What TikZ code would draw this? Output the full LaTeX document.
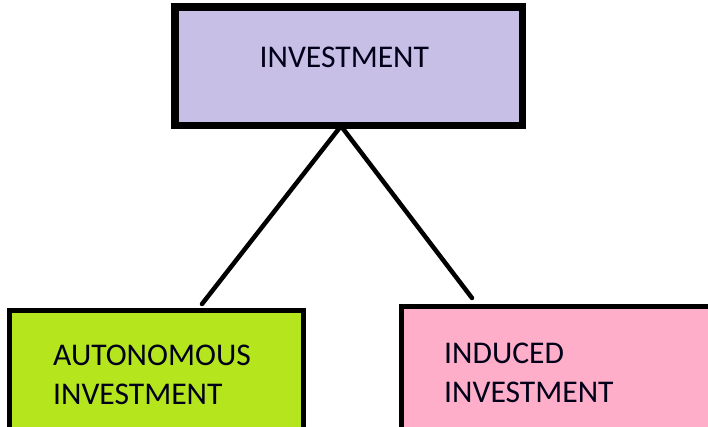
\documentclass[tikz,border=0pt]{standalone}
\usepackage{fontspec}
\setmainfont{Carlito}
\definecolor{lavender}{HTML}{C8BFE7}
\definecolor{lime}{HTML}{B5E61D}
\definecolor{pinkfill}{HTML}{FFAEC9}
\tikzset{
  box/.style={draw=black, line width=5pt, rectangle, inner sep=0pt},
  label text/.style={font=\fontsize{31.6}{38.5}\selectfont, inner sep=0pt, align=left, text=black!90!blue},
  link/.style={draw=black, line width=4.5pt, line cap=round}
}
\begin{document}
\begin{tikzpicture}[x=1pt, y=-1pt]
  \useasboundingbox (0,0) rectangle (708,427);
  \clip (0,0) rectangle (708,427);
  \fill[white] (0,0) rectangle (708,427);

  % boxes
  \node[box, fill=lavender, minimum width=345pt, minimum height=116pt] (top) at (348.5,66.5) {};
  \node[box, fill=lime, minimum width=294pt, minimum height=140pt] (auto) at (156.5,380.5) {};
  \node[box, fill=pinkfill, minimum width=320pt, minimum height=150pt] (ind) at (561.5,381) {};

  % labels (base anchor sits on the last line)
  \node[label text, anchor=base west] (toptext) at (259.5,68) {INVESTMENT};
  \node[label text, anchor=base west] (autotext) at (53,404) {AUTONOMOUS\\INVESTMENT};
  \node[label text, anchor=base west] (indtext) at (444,402) {INDUCED\\INVESTMENT};

  % connectors
  \coordinate (apex) at (341,126);
  \coordinate (autoend) at (202,304);
  \coordinate (indend) at (472,298);
  \draw[link] (apex) -- (autoend);
  \draw[link] (apex) -- (indend);
  \draw[box, fill=none] (top.north west) rectangle (top.south east);
\end{tikzpicture}
\end{document}
